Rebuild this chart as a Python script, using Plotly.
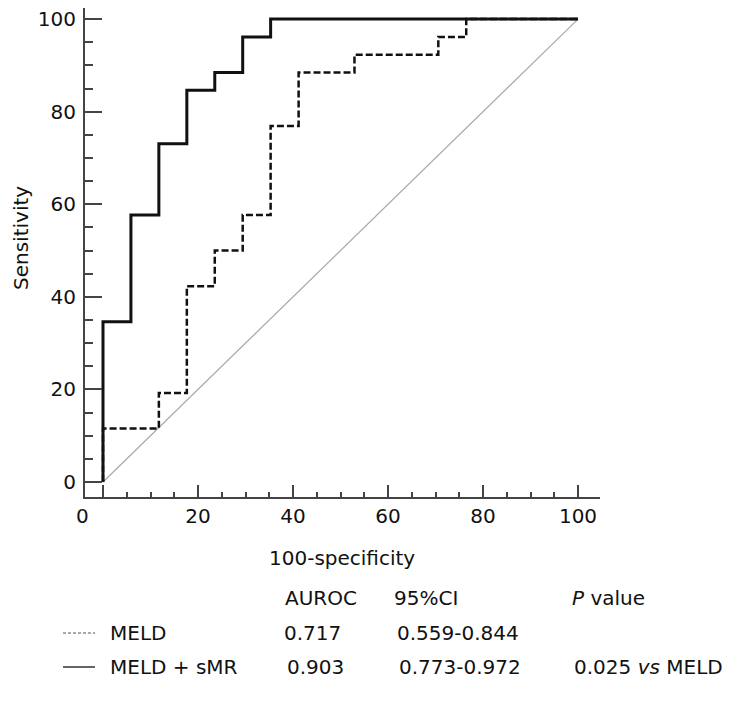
import plotly.graph_objects as go

# ROC step corners (100-specificity, sensitivity)
meld_fpr = [0, 0, 11.76, 17.65, 23.53, 29.41, 35.29, 41.18, 52.94, 70.59, 76.47, 100]
meld_tpr = [0, 11.54, 19.23, 42.31, 50.0, 57.69, 76.92, 88.46, 92.31, 96.15, 100, 100]

combo_fpr = [0, 0, 5.88, 11.76, 17.65, 23.53, 29.41, 35.29, 100]
combo_tpr = [0, 34.62, 57.69, 73.08, 84.62, 88.46, 96.15, 100, 100]

ref_line = [0, 100]

tick_vals = [0, 20, 40, 60, 80, 100]
x_tick_text = ["", "20", "40", "60", "80", "100"]

# summary table under the chart
table_header = ["AUROC", "95%CI", "<i>P</i> value"]
table_models = ["MELD", "MELD + sMR"]
table_auroc = ["0.717", "0.903"]
table_ci = ["0.559-0.844", "0.773-0.972"]
table_p = ["", "0.025 <i>vs</i> MELD"]

FONT = "DejaVu Sans"
AXIS_COLOR = "#444444"
TEXT_COLOR = "#111111"

# the page body adds an 8px margin, so the figure is drawn 8px smaller
# and all screen positions below are shifted by it
OFF = 8
W, H = 736 - OFF, 702 - OFF
L, T = 85 - OFF, 0
PW = 600 - 85
PH = 497 - OFF - T
R, B = W - L - PW, H - T - PH


def px_x(px):
    return (px - OFF - L) / PW


def px_y(py):
    return (T + PH - (py - OFF)) / PH


fig = go.Figure()

fig.add_trace(go.Scatter(
    x=ref_line, y=ref_line, mode="lines",
    line=dict(color="#a8a8a8", width=1.2),
    showlegend=False, hoverinfo="skip"
))

fig.add_trace(go.Scatter(
    x=meld_fpr, y=meld_tpr, mode="lines", name="MELD",
    line=dict(color="#111111", width=2.5, dash="7px,3px", shape="hv"),
    showlegend=False
))

fig.add_trace(go.Scatter(
    x=combo_fpr, y=combo_tpr, mode="lines", name="MELD + sMR",
    line=dict(color="#111111", width=3, shape="hv"),
    showlegend=False
))

axis_common = dict(
    showline=True, linecolor=AXIS_COLOR, linewidth=2,
    showgrid=False, zeroline=False,
    ticks="inside", tickcolor=AXIS_COLOR, tickwidth=2,
    tickfont=dict(family=FONT, size=20, color=TEXT_COLOR),
    tickvals=tick_vals, ticklabeloverflow="allow",
)

fig.update_xaxes(
    **axis_common,
    range=[-3.79, 104.63], ticklen=12, ticktext=x_tick_text,
    minor=dict(ticks="inside", ticklen=5, dtick=5, tick0=0,
               tickcolor=AXIS_COLOR, tickwidth=2),
    ticklabelstandoff=0,
)
fig.update_yaxes(
    **axis_common,
    range=[-3.24, 102.4], ticklen=17,
    minor=dict(ticks="inside", ticklen=8, dtick=5, tick0=0,
               tickcolor=AXIS_COLOR, tickwidth=2),
    ticklabelstandoff=3,
)

annotations = []


def add_text(text, px, py, anchor="left", angle=0):
    annotations.append(dict(
        text=text, xref="paper", yref="paper",
        x=px_x(px), y=px_y(py), xanchor=anchor, yanchor="middle",
        showarrow=False, textangle=angle,
        font=dict(family=FONT, size=20, color=TEXT_COLOR)
    ))


# the "0" x label sits left of its tick in the original
add_text("0", 82, 516, anchor="center")
add_text("Sensitivity", 21, 238, anchor="center", angle=-90)
add_text("100-specificity", 342, 558, anchor="center")

header_x = [283, 392, 570]
for txt, hx in zip(table_header, header_x):
    add_text(txt, hx, 598)

row_y = [633, 667]
auroc_x = [282, 285]
ci_x = [395, 397]
for i in range(len(table_models)):
    add_text(table_models[i], 108, row_y[i])
    add_text(table_auroc[i], auroc_x[i], row_y[i])
    add_text(table_ci[i], ci_x[i], row_y[i])
    if table_p[i]:
        add_text(table_p[i], 572, row_y[i])

# legend samples in the table
shapes = [
    dict(type="line", xref="paper", yref="paper",
         x0=px_x(63), x1=px_x(95), y0=px_y(633), y1=px_y(633),
         line=dict(color="#555555", width=1, dash="3px,2px")),
    dict(type="line", xref="paper", yref="paper",
         x0=px_x(63), x1=px_x(95), y0=px_y(667), y1=px_y(667),
         line=dict(color="#111111", width=1.3)),
]

fig.update_layout(
    width=W, height=H,
    margin=dict(l=L, r=R, t=T, b=B, pad=0),
    paper_bgcolor="white", plot_bgcolor="white",
    font=dict(family=FONT, size=20, color=TEXT_COLOR),
    annotations=annotations, shapes=shapes,
    showlegend=False,
)

fig.write_html("out.html")
